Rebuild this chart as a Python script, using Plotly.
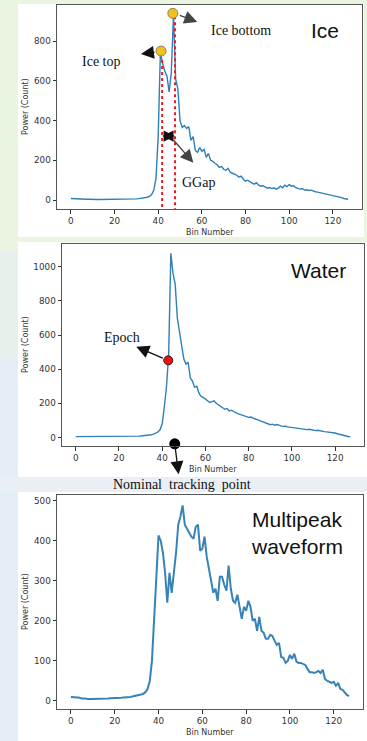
import plotly.graph_objects as go

# ---------------- data ----------------
bins = list(range(128))

ice_power = [8, 7, 6, 5, 5, 4, 4, 4, 4, 3, 3, 3, 3, 3, 3, 3, 3, 3, 3, 3,
             3, 4, 4, 4, 4, 4, 5, 5, 5, 6, 6, 7, 8, 9, 11, 14, 18, 28, 50, 110,
             320, 740, 690, 650, 625, 545, 640, 935, 610, 560, 400, 365, 375, 360, 370, 300,
             320, 250, 240, 265, 245, 255, 215, 235, 200, 195, 185, 178, 165, 170, 155, 150,
             160, 140, 135, 130, 125, 115, 120, 105, 95, 100, 90, 85, 80, 88, 75, 70,
             72, 65, 60, 63, 58, 62, 55, 60, 70, 62, 75, 68, 78, 70, 72, 62,
             60, 55, 58, 50, 52, 48, 50, 45, 42, 40, 38, 36, 34, 30, 28, 25,
             22, 20, 18, 14, 12, 8, 6, 4]

water_power = [5, 5, 4, 4, 4, 4, 4, 4, 4, 4, 4, 4, 4, 4, 4, 5, 5, 5, 5, 5,
               6, 6, 6, 6, 6, 7, 7, 7, 8, 8, 9, 10, 11, 12, 14, 16, 20, 25, 32, 45,
               80, 180, 300, 490, 1080, 960, 900, 700, 620, 560, 460, 430, 440, 350, 330, 295,
               300, 260, 240, 235, 225, 220, 205, 210, 215, 200, 190, 185, 175, 165, 170, 155,
               160, 150, 145, 140, 135, 130, 125, 120, 118, 120, 112, 108, 105, 100, 95, 90,
               85, 80, 75, 78, 72, 76, 70, 68, 65, 66, 62, 60, 58, 60, 55, 52,
               54, 50, 48, 46, 48, 44, 42, 40, 42, 38, 36, 34, 33, 32, 30, 31,
               26, 22, 18, 16, 12, 9, 6, 4]

multi_power = [10, 10, 10, 9, 8, 6, 6, 5, 5, 5, 5, 5, 5, 5, 6, 6, 6, 6, 7, 7,
               7, 7, 8, 8, 9, 9, 10, 10, 11, 12, 14, 15, 16, 18, 22, 30, 50, 100, 200, 300,
               413, 400, 370, 320, 245, 320, 270, 320, 370, 440, 460, 488, 440, 430, 420, 410,
               405, 435, 440, 375, 380, 410, 360, 330, 300, 270, 280, 250, 310, 310, 290, 275,
               338, 280, 250, 245, 265, 230, 205, 235, 225, 250, 235, 200, 205, 175, 210, 175,
               170, 155, 155, 165, 162, 150, 140, 145, 110, 108, 95, 100, 115, 105, 118, 98,
               95, 95, 93, 90, 80, 72, 72, 70, 72, 75, 70, 78, 55, 50, 48, 45,
               48, 38, 45, 30, 28, 20, 15, 12]

# annotated points
ice_peak_bins = [41.3, 46.7]
ice_peak_power = [750, 940]
ice_gate_bins = [41.8, 47.7]
ice_gate_top = [705, 925]
epoch_bin, epoch_power = [42.8], [452]
nominal_bin, nominal_power = [45.8], [-37]

x_ticks = [0, 20, 40, 60, 80, 100, 120]
ice_yticks = [0, 200, 400, 600, 800]
water_yticks = [0, 200, 400, 600, 800, 1000]
multi_yticks = [0, 100, 200, 300, 400, 500]

# ---------------- layout helpers ----------------
W, H = 367, 741
def fx(p): return p / W
def fy(p): return 1 - p / H

panels = [
    dict(x0=57, x1=362, y0=5, y1=209, yr=[-45, 982], yt=ice_yticks),
    dict(x0=62, x1=364, y0=244, y1=446, yr=[-50, 1134], yt=water_yticks),
    dict(x0=57, x1=363, y0=495, y1=709, yr=[-20, 514], yt=multi_yticks),
]

LINE = '#2f7fb8'
fig = go.Figure()

fig.add_trace(go.Scatter(x=bins, y=ice_power, mode='lines', line=dict(color=LINE, width=1.4),
                         xaxis='x', yaxis='y', showlegend=False))
for b, top in zip(ice_gate_bins, ice_gate_top):
    fig.add_trace(go.Scatter(x=[b, b], y=[top, panels[0]['yr'][0]], mode='lines',
                             line=dict(color='#e3202a', width=2, dash='dot'),
                             xaxis='x', yaxis='y', showlegend=False, cliponaxis=False))
fig.add_trace(go.Scatter(x=ice_peak_bins, y=ice_peak_power, mode='markers',
                         marker=dict(size=10, color='#f4c01c', line=dict(color='#8b8060', width=1)),
                         xaxis='x', yaxis='y', showlegend=False, cliponaxis=False))

fig.add_trace(go.Scatter(x=bins, y=water_power, mode='lines', line=dict(color=LINE, width=1.4),
                         xaxis='x2', yaxis='y2', showlegend=False))
fig.add_trace(go.Scatter(x=epoch_bin, y=epoch_power, mode='markers',
                         marker=dict(size=9, color='#ff0a0a', line=dict(color='#222', width=1)),
                         xaxis='x2', yaxis='y2', showlegend=False))
fig.add_trace(go.Scatter(x=nominal_bin, y=nominal_power, mode='markers',
                         marker=dict(size=11, color='#000000'),
                         xaxis='x2', yaxis='y2', showlegend=False, cliponaxis=False))

fig.add_trace(go.Scatter(x=bins, y=multi_power, mode='lines', line=dict(color='#3783b8', width=2),
                         xaxis='x3', yaxis='y3', showlegend=False))

tickfont = dict(family='DejaVu Sans', size=8.8, color='#333333')
layout = dict(width=W, height=H, margin=dict(l=0, r=0, t=0, b=0),
              paper_bgcolor='#e9f4e1', plot_bgcolor='white', showlegend=False)
for i, p in enumerate(panels, start=1):
    sx = '' if i == 1 else str(i)
    layout['xaxis' + sx] = dict(domain=[fx(p['x0']), fx(p['x1'])], range=[-6.35, 133.35],
                                anchor='y' + sx, tickvals=x_ticks, ticks='outside', ticklen=3.5,
                                tickcolor='#333', showline=True, linecolor='#555', linewidth=1,
                                mirror=True, showgrid=False, zeroline=False, tickfont=tickfont)
    layout['yaxis' + sx] = dict(domain=[fy(p['y1']), fy(p['y0'])], range=p['yr'],
                                anchor='x' + sx, tickvals=p['yt'], ticks='outside', ticklen=3.5,
                                tickcolor='#333', showline=True, linecolor='#555', linewidth=1,
                                mirror=True, showgrid=False, zeroline=False, tickfont=tickfont)
fig.update_layout(**layout)

# background cards
shapes = [
    dict(type='rect', xref='paper', yref='paper', x0=0, x1=fx(18), y0=fy(741), y1=fy(360),
         fillcolor='#e3edf6', line_width=0, layer='below'),
    dict(type='rect', xref='paper', yref='paper', x0=0, x1=fx(18), y0=fy(360), y1=fy(250),
         fillcolor='#e6f1ec', line_width=0, layer='below'),
    dict(type='rect', xref='paper', yref='paper', x0=0, x1=1, y0=fy(492), y1=fy(477),
         fillcolor='#e9eff4', line_width=0, layer='below'),
    dict(type='rect', xref='paper', yref='paper', x0=fx(18), x1=fx(364), y0=fy(237), y1=fy(4),
         fillcolor='white', line_width=0, layer='below'),
    dict(type='rect', xref='paper', yref='paper', x0=fx(18), x1=1, y0=fy(477), y1=fy(242),
         fillcolor='white', line_width=0, layer='below'),
    dict(type='rect', xref='paper', yref='paper', x0=fx(18), x1=1, y0=0, y1=fy(492),
         fillcolor='white', line_width=0, layer='below'),
]
fig.update_layout(shapes=shapes)

ann = []
lab = dict(family='DejaVu Sans', size=8, color='#333333')
C = dict(xanchor='center', yanchor='middle', xref='paper', yref='paper', showarrow=False)
# axis titles
for p, bx in zip(panels, [(57 + 362) / 2, (62 + 364) / 2, (57 + 363) / 2]):
    ann.append(dict(C, text='Bin Number', x=fx(bx), y=fy(p['y1'] + 23), font=lab))
    ann.append(dict(C, text='Power (Count)', x=fx(25), y=fy((p['y0'] + p['y1']) / 2), font=lab,
                    textangle=-90))

big = dict(family='Liberation Sans, Arial', size=21, color='#111111')
ann.append(dict(C, text='Ice', x=fx(325), y=fy(30), font=big))
ann.append(dict(C, text='Water', x=fx(318), y=fy(270), font=big))
ann.append(dict(C, text='Multipeak<br>waveform', x=fx(249), y=fy(533), font=big,
                xanchor='left', align='left'))

serif = dict(family='Liberation Serif, Times New Roman', size=14, color='#111111')
ann.append(dict(C, text='Ice top', x=fx(101), y=fy(61), font=serif))
ann.append(dict(C, text='Ice bottom', x=fx(241), y=fy(30), font=serif))
ann.append(dict(C, text='GGap', x=fx(198), y=fy(182), font=serif))
ann.append(dict(C, text='Epoch', x=fx(122), y=fy(337), font=serif))
ann.append(dict(C, text='Nominal  tracking  point', x=fx(182), y=fy(485), font=serif))

arr = dict(showarrow=True, arrowhead=2, arrowsize=2, arrowwidth=1.3, text='')
# Ice top arrow
ann.append(dict(arr, x=32.1, y=735, xref='x', yref='y', ax=15, ay=-2, arrowcolor='#111'))
# Ice bottom arrow
ann.append(dict(arr, x=57.9, y=897, xref='x', yref='y', ax=-19, ay=-7, arrowcolor='#444'))
# GGap double arrow: two heads pointing outward from the middle -> diamond
ann.append(dict(arr, x=41.9, y=322, xref='x', yref='y', ax=7, ay=0, arrowcolor='#111',
                arrowsize=1.6, arrowwidth=1.4))
ann.append(dict(arr, x=47.6, y=322, xref='x', yref='y', ax=-6, ay=0, arrowcolor='#111',
                arrowsize=1.6, arrowwidth=1.4))
ann.append(dict(arr, x=56.1, y=188, xref='x', yref='y', ax=-21, ay=-24, arrowcolor='#444'))
# Epoch arrow
ann.append(dict(arr, x=28, y=532, xref='x2', yref='y2', ax=28, ay=12, arrowcolor='#111'))
# Nominal tracking point arrow (head at tail end)
ann.append(dict(arr, x=nominal_bin[0], y=nominal_power[0], xref='x2', yref='y2', ax=4, ay=32,
                arrowcolor='#111', arrowside='start', startarrowhead=2, startarrowsize=2))
fig.update_layout(annotations=ann)

fig.write_html('out.html')
